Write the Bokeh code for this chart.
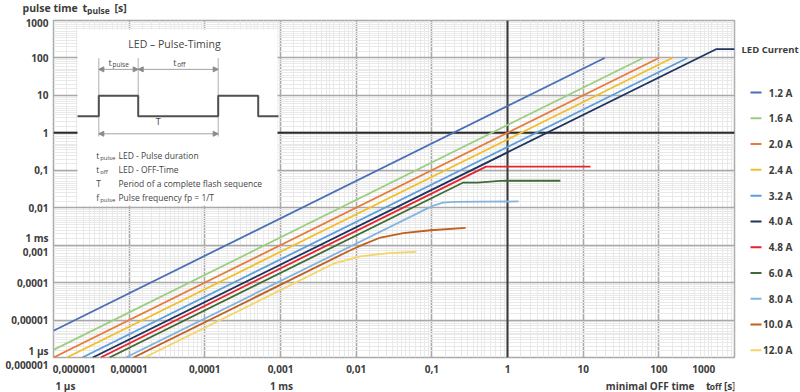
from bokeh.plotting import figure
from bokeh.layouts import column, row
from bokeh.models import (Range1d, LinearScale, FixedTicker, Span, Label,
                          Arrow, NormalHead)
from bokeh.core.properties import value
from bokeh.embed import file_html
from bokeh.resources import INLINE

# ---------------- data ----------------
currents = ["1.2 A", "1.6 A", "2.0 A", "2.4 A", "3.2 A", "4.0 A",
            "4.8 A", "6.0 A", "8.0 A", "10.0 A", "12.0 A"]
colors = ["#4a6fb5", "#9dce80", "#e87b3b", "#f2bf2b", "#5c9ed8", "#1f3461",
          "#e3262d", "#3f6b34", "#83b4e0", "#c0601f", "#f5d468"]

toff_1_2 = [1e-6, 19.2];            tp_1_2 = [5.2e-6, 100]
toff_1_6 = [1e-6, 62.0];            tp_1_6 = [1.6e-6, 100]
toff_2_0 = [1e-6, 100];             tp_2_0 = [1.0e-6, 100]
toff_2_4 = [1.5e-6, 150];           tp_2_4 = [1e-6, 100]
toff_3_2 = [2.4e-6, 238];           tp_3_2 = [1e-6, 100]
toff_4_0 = [3.3e-6, 570, 1000];     tp_4_0 = [1e-6, 171, 171]
toff_4_8 = [4.2e-6, 0.52, 12.5];    tp_4_8 = [1e-6, 0.125, 0.125]
toff_6_0 = [5.5e-6, 0.26, 0.40, 0.8, 1.0, 5.0]
tp_6_0 = [1e-6, 0.047, 0.047, 0.052, 0.0525, 0.0525]
toff_8_0 = [9e-6, 0.085, 0.11, 0.14, 0.2, 0.5, 1.4]
tp_8_0 = [1e-6, 0.0093, 0.0118, 0.0136, 0.0143, 0.0145, 0.0147]
toff_10_0 = [1.14e-5, 0.008, 0.0125, 0.021, 0.042, 0.096, 0.28]
tp_10_0 = [1e-6, 0.0007, 0.00105, 0.0016, 0.0021, 0.0025, 0.0029]
toff_12_0 = [1.6e-5, 0.005, 0.0113, 0.027, 0.0625]
tp_12_0 = [1e-6, 0.00032, 0.0005, 0.00061, 0.00066]

series_x = [toff_1_2, toff_1_6, toff_2_0, toff_2_4, toff_3_2, toff_4_0,
            toff_4_8, toff_6_0, toff_8_0, toff_10_0, toff_12_0]
series_y = [tp_1_2, tp_1_6, tp_2_0, tp_2_4, tp_3_2, tp_4_0,
            tp_4_8, tp_6_0, tp_8_0, tp_10_0, tp_12_0]

decades = [1e-6, 1e-5, 1e-4, 1e-3, 1e-2, 1e-1, 1, 10, 100, 1000]
tick_labels = ["0,000001", "0,00001", "0,0001", "0,001", "0,01", "0,1",
               "1", "10", "100", "1000"]

# ---------------- style / layout constants ----------------
FONT = "Open Sans"
TXT = "#3c3c3c"
MAJOR = "#a9a9a9"
MINOR = "#e9e9e9"
LEFT, FRAME_W, RIGHT, LEG_W = 53, 681, 4, 62
FRAME_H = 340
TOP_H, BOT_H = 15, 14
M_TOP, M_BOT = 5, 18
MAIN_H = M_TOP + FRAME_H + M_BOT
NB = "\u00a0"


def bare(fig):
    fig.outline_line_color = None
    fig.background_fill_color = None
    fig.border_fill_color = None
    fig.grid.visible = False
    return fig


def lab(fig, x, y, text, size="9px", style="normal", align="left", xo=0, yo=0,
        color="#444444", **kw):
    fig.add_layout(Label(x=x, y=y, text=text, text_font=FONT, text_font_size=size,
                         text_font_style=style, text_align=align,
                         text_baseline="middle", x_offset=xo, y_offset=yo,
                         text_color=color, **kw))


# ---------------- main chart ----------------
xr = Range1d(1e-6, 1000)
p = figure(width=LEFT + FRAME_W + RIGHT, height=MAIN_H, x_axis_type="log", y_axis_type="log",
           x_range=xr, y_range=Range1d(1e-6, 1000),
           output_backend="svg", toolbar_location=None,
           min_border_left=LEFT, min_border_right=RIGHT,
           min_border_top=M_TOP, min_border_bottom=M_BOT)
p.outline_line_color = MAJOR
p.outline_line_width = 1.5

minor = [m * 10.0 ** e for e in range(-6, 3)
         for m in (1.5, 2, 2.5, 3, 3.5, 4, 4.5, 5, 6, 7, 8, 9)]
xt = FixedTicker(ticks=decades, minor_ticks=minor)
yt = FixedTicker(ticks=decades, minor_ticks=minor)
p.xaxis[0].ticker = xt
p.yaxis[0].ticker = yt
p.xgrid[0].ticker = xt
p.ygrid[0].ticker = yt

xover = {d: l for d, l in zip(decades, tick_labels)}
xover[decades[0]] = NB * 16 + tick_labels[0]      # padded so it reads left-aligned
xover[decades[-1]] = tick_labels[-1] + NB * 9     # padded so it reads right-aligned
p.xaxis[0].major_label_overrides = xover
yover = {d: l for d, l in zip(decades, tick_labels)}
yover[1e-3] = "1 ms\n" + tick_labels[3]
yover[1e-6] = "1 µs\n" + tick_labels[0]
p.yaxis[0].major_label_overrides = yover

for ax in (p.xaxis[0], p.yaxis[0]):
    ax.major_tick_out = 0
    ax.major_tick_in = 0
    ax.minor_tick_out = 0
    ax.minor_tick_in = 0
    ax.axis_line_color = None
    ax.major_label_text_font = FONT
    ax.major_label_text_font_size = "10px"
    ax.major_label_text_font_style = "bold"
    ax.major_label_text_color = TXT
    ax.major_label_text_line_height = 1.0
p.yaxis[0].major_label_standoff = 5
p.xaxis[0].major_label_standoff = 4

for g in (p.xgrid[0], p.ygrid[0]):
    g.grid_line_color = MAJOR
    g.grid_line_width = 1.6
    g.minor_grid_line_color = MINOR
    g.minor_grid_line_width = 1

p.add_layout(Span(location=1, dimension="height", line_color="#3a3a3a",
                  line_width=2, level="underlay"))
p.add_layout(Span(location=1, dimension="width", line_color="#2a2a2a",
                  line_width=2, level="underlay"))

# frame-relative coordinates for the inset sketch (y downward)
p.extra_x_ranges = {"ix": Range1d(0, FRAME_W)}
p.extra_y_ranges = {"iy": Range1d(FRAME_H, 0)}
p.extra_x_scales = {"ix": LinearScale()}
p.extra_y_scales = {"iy": LinearScale()}
IX = dict(x_range_name="ix", y_range_name="iy")

p.quad(left=24, right=224, top=9, bottom=187, fill_color="white",
       line_color=None, **IX)
p.segment(x0=[45.3, 84.7, 164.7], y0=[38, 38, 38],
          x1=[45.3, 84.7, 164.7], y1=[117, 76, 117],
          line_color="#9a9a9a", line_width=0.8, **IX)
p.line(x=[24, 45.3, 45.3, 84.7, 84.7, 164.7, 164.7, 204.7, 204.7, 225],
       y=[96.7, 96.7, 76, 76, 96.7, 96.7, 76, 76, 96.7, 96.7],
       line_color="#505050", line_width=2, **IX)
for xs, xe, yy in ((45.3, 84.7, 49.3), (84.7, 164.7, 49.3), (45.3, 164.7, 114.3)):
    p.add_layout(Arrow(x_start=xs, y_start=yy, x_end=xe, y_end=yy,
                       start=NormalHead(size=5, fill_color="#8a8a8a", line_color="#8a8a8a"),
                       end=NormalHead(size=5, fill_color="#8a8a8a", line_color="#8a8a8a"),
                       line_color="#8a8a8a", line_width=0.8, **IX))

lab(p, 121, 24, "LED – Pulse-Timing", size="10.5px", align="center", **IX)
lab(p, 65, 42.7, "t", size="9px", xo=-10, **IX)
lab(p, 65, 42.7, "pulse", size="6.5px", xo=-6, yo=-2, **IX)
lab(p, 124.7, 42.7, "t", size="9px", xo=-5, **IX)
lab(p, 124.7, 42.7, "off", size="6.5px", xo=-1, yo=-2, **IX)
lab(p, 104.7, 102, "T", size="9px", align="center", **IX)

rows_y = [136.7, 150.7, 164.7, 179]
key_sym = ["t", "t", "T", "f"]
key_sub = ["pulse", "off", "", "pulse"]
key_txt = ["LED - Pulse duration", "LED - OFF-Time",
           "Period of a complete flash sequence", "Pulse frequency fp = 1/T"]
for ry, s, sb, t in zip(rows_y, key_sym, key_sub, key_txt):
    lab(p, 42.7, ry, s, size="8.5px", **IX)
    if sb:
        lab(p, 42.7, ry, sb, size="6px", xo=4, yo=-2, **IX)
    lab(p, 65, ry, t, size="8.5px", **IX)

for xs, ys, c in zip(series_x, series_y, colors):
    p.line(xs, ys, line_color=c, line_width=1.8)

# ---------------- legend column (drawn from currents / colors) ----------------
leg = bare(figure(width=LEG_W, height=MAIN_H, x_range=Range1d(0, LEG_W),
                  y_range=Range1d(FRAME_H, 0), x_axis_location=None, y_axis_location=None,
                  output_backend="svg", toolbar_location=None, min_border_left=0,
                  min_border_right=0, min_border_top=M_TOP, min_border_bottom=M_BOT))
LEG_Y0, LEG_DY = 72.7, 26.0
leg_y = [LEG_Y0 + LEG_DY * i for i in range(len(currents))]
leg.segment(x0=12, x1=23, y0=leg_y, y1=leg_y, line_color=colors, line_width=2)
leg.text(x=54, y=leg_y, text=currents, text_align="right", text_baseline="middle",
         text_font=value(FONT), text_font_size="10px", text_font_style="bold",
         text_color=TXT)
lab(leg, 3, 29, "LED Current", size="9.5px", style="bold", color=TXT)

# ---------------- bottom strip: second tick line and x title ----------------
bot = bare(figure(width=LEFT + FRAME_W + RIGHT, height=BOT_H, x_axis_type="log",
                  x_range=xr, y_range=Range1d(BOT_H, 0),
                  x_axis_location=None, y_axis_location=None, output_backend="svg",
                  toolbar_location=None, min_border_left=LEFT, min_border_right=RIGHT,
                  min_border_top=0, min_border_bottom=0))
bc = 7
lab(bot, decades[0], bc, "1 µs", size="10px", style="bold", xo=2, color=TXT)
lab(bot, 1e-3, bc, "1 ms", size="10px", style="bold", align="center", xo=1, color=TXT)
lab(bot, decades[-1], bc, "minimal OFF time", size="10px", style="bold", align="right",
    xo=-40, color=TXT)
lab(bot, decades[-1], bc, "t", size="10.5px", style="bold", align="right", xo=-24, color=TXT)
lab(bot, decades[-1], bc + 1, "off", size="8.5px", style="bold", align="right", xo=-13,
    color=TXT)
lab(bot, decades[-1], bc, "[s]", size="10px", style="bold", align="right", xo=1, color=TXT)

# ---------------- top strip: y-axis title (separate root, page coordinates) ----------------
top = bare(figure(width=800, height=TOP_H, x_range=Range1d(0, 800), y_range=Range1d(TOP_H, 0),
                  x_axis_location=None, y_axis_location=None, output_backend="svg",
                  toolbar_location=None, min_border_left=0, min_border_right=0,
                  min_border_top=0, min_border_bottom=0))
lab(top, 22, 7, "pulse time", size="10.5px", style="bold", color=TXT)
lab(top, 82, 7, "t", size="11px", style="bold", color=TXT)
lab(top, 86.5, 9.5, "pulse", size="8.5px", style="bold", color=TXT)
lab(top, 114, 7, "[s]", size="10.5px", style="bold", color=TXT)

body = column(row(p, leg), bot)
open("out.html", "w").write(file_html([top, body], INLINE))
